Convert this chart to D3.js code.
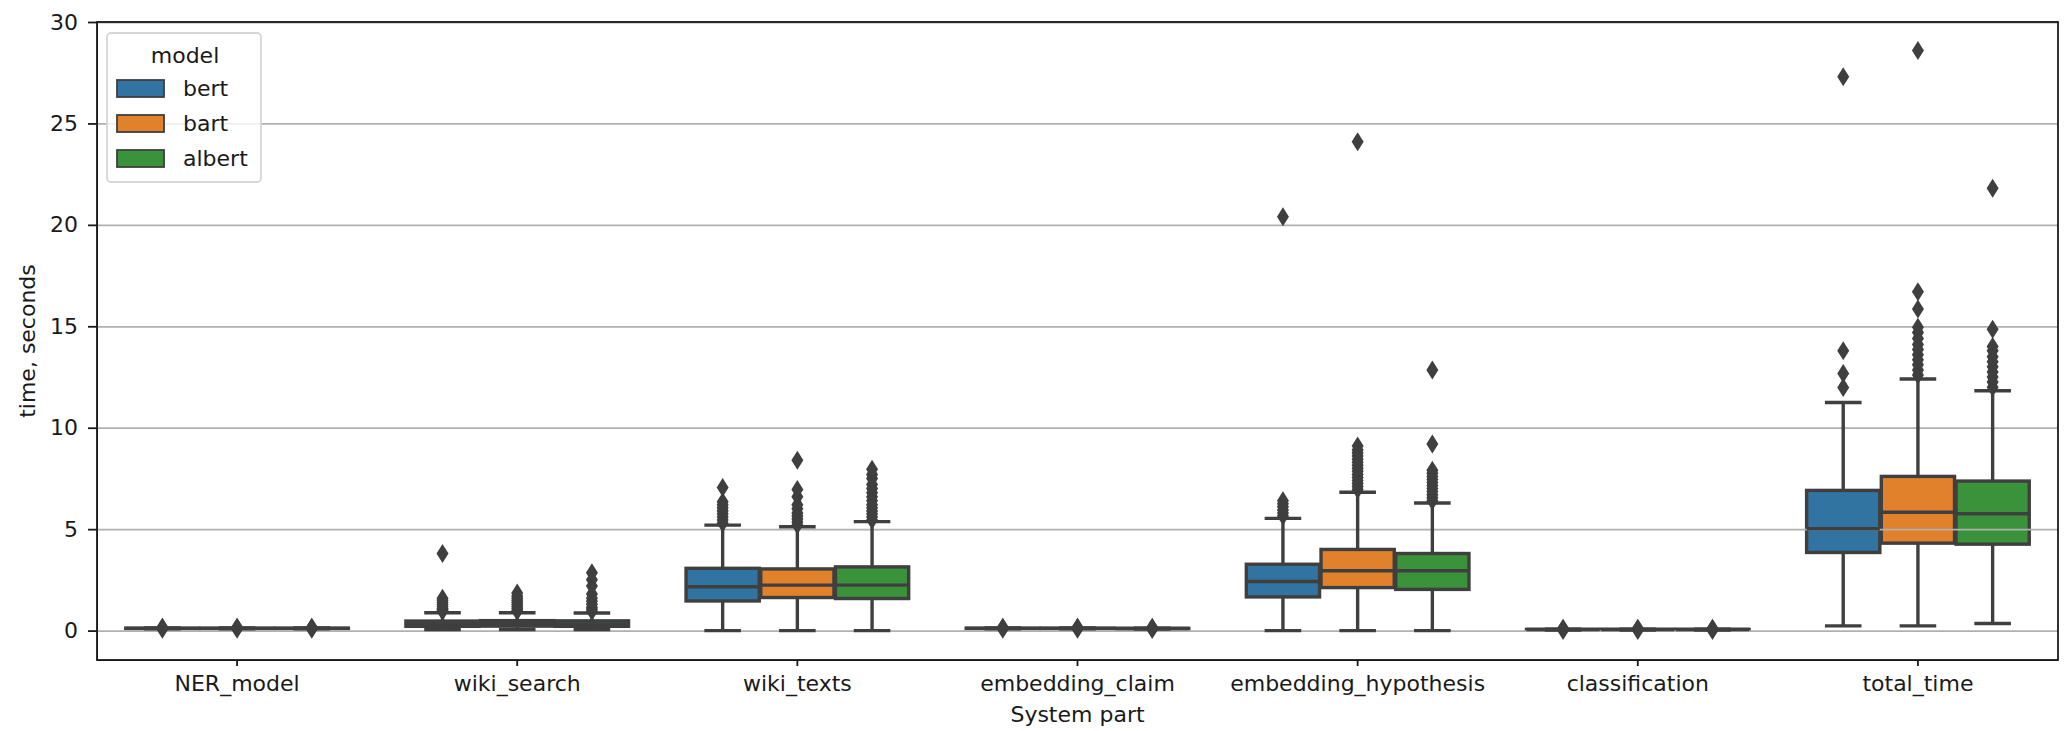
<!DOCTYPE html>
<html>
<head>
<meta charset="utf-8">
<script src="https://cdnjs.cloudflare.com/ajax/libs/d3/7.8.5/d3.min.js"></script>
<style>
    body { margin: 0; background: #fff; }
    svg text { font-family: 'DejaVu Sans', sans-serif; fill: #1a1a1a; }
    .axis text { font-size: 22px; }
    .axis line { stroke: #1a1a1a; stroke-width: 1.8; }
    .axis path { display: none; }
    .grid line { stroke: #b0b0b0; stroke-width: 1.8; }
    .axis-label { font-size: 22px; }
</style>
</head>
<body>
<svg id="boxes"></svg>
<script>
//categories on the x axis and hue levels
var categories = ['NER_model', 'wiki_search', 'wiki_texts', 'embedding_claim', 'embedding_hypothesis', 'classification', 'total_time'];
var models = ['bert', 'bart', 'albert'];
var colors = ['#3274a1', '#e1812c', '#3a923a'];
var yTicks = [0, 5, 10, 15, 20, 25, 30];

//box statistics, one row per category, one entry per model
var whiskerLow = [
    [0.09, 0.09, 0.09],
    [0.05, 0.05, 0.05],
    [0, 0, 0],
    [0.09, 0.09, 0.08],
    [0, 0, 0],
    [0.03, 0.03, 0.03],
    [0.23, 0.23, 0.35]
];
var q1 = [
    [0.10, 0.10, 0.10],
    [0.21, 0.22, 0.21],
    [1.46, 1.63, 1.58],
    [0.10, 0.10, 0.09],
    [1.66, 2.12, 2.03],
    [0.04, 0.04, 0.04],
    [3.85, 4.31, 4.26]
];
var median = [
    [0.11, 0.11, 0.11],
    [0.33, 0.35, 0.33],
    [2.16, 2.24, 2.24],
    [0.11, 0.11, 0.10],
    [2.42, 2.95, 2.95],
    [0.05, 0.05, 0.05],
    [5.02, 5.83, 5.76]
];
var q3 = [
    [0.12, 0.12, 0.12],
    [0.47, 0.49, 0.48],
    [3.07, 3.04, 3.14],
    [0.12, 0.12, 0.11],
    [3.27, 4.00, 3.80],
    [0.06, 0.06, 0.06],
    [6.91, 7.60, 7.37]
];
var whiskerHigh = [
    [0.13, 0.13, 0.13],
    [0.88, 0.88, 0.87],
    [5.20, 5.12, 5.37],
    [0.13, 0.13, 0.12],
    [5.53, 6.82, 6.29],
    [0.07, 0.07, 0.07],
    [11.24, 12.40, 11.82]
];
var outliers = [
    [[0.07, 0.15, 0.17], [0.07, 0.15, 0.17], [0.07, 0.15, 0.17]],
    [[0.95, 1.0, 1.05, 1.1, 1.2, 1.3, 1.4, 1.5, 1.6, 3.8],
     [0.95, 1.0, 1.1, 1.2, 1.3, 1.4, 1.5, 1.6, 1.7, 1.85],
     [0.95, 1.05, 1.15, 1.3, 1.45, 1.6, 1.8, 2.2, 2.5, 2.85]],
    [[5.3, 5.45, 5.6, 5.75, 5.9, 6.05, 6.2, 6.35, 7.05],
     [5.2, 5.35, 5.5, 5.65, 5.8, 6.0, 6.2, 6.6, 6.95, 8.4],
     [5.45, 5.6, 5.75, 5.9, 6.05, 6.2, 6.4, 6.6, 6.8, 7.0, 7.2, 7.5, 7.7, 7.95]],
    [[0.06, 0.15, 0.17], [0.06, 0.15, 0.17], [0.05, 0.14, 0.16]],
    [[5.65, 5.8, 5.95, 6.1, 6.25, 6.4, 20.4],
     [6.95, 7.1, 7.25, 7.4, 7.55, 7.7, 7.85, 8.0, 8.15, 8.3, 8.45, 8.6, 8.75, 8.9, 9.1, 24.1],
     [6.4, 6.55, 6.7, 6.85, 7.0, 7.15, 7.3, 7.45, 7.6, 7.75, 7.9, 9.2, 12.85]],
    [[0.01, 0.09, 0.11], [0.01, 0.09, 0.11], [0.01, 0.09, 0.11]],
    [[11.98, 12.67, 13.8, 27.3],
     [12.6, 12.85, 13.1, 13.35, 13.6, 13.85, 14.1, 14.4, 14.7, 14.95, 15.85, 16.7, 28.6],
     [12.0, 12.25, 12.5, 12.75, 13.0, 13.25, 13.5, 13.8, 14.0, 14.85, 21.8]]
];

function boxChart() {
    //chart parameters
    var svg = d3.select('#boxes')
        .attr('width', 2067)
        .attr('height', 731);

    var margin = {top: 22, right: 9, bottom: 71, left: 97},
        width = +svg.attr('width') - margin.left - margin.right,
        height = +svg.attr('height') - margin.top - margin.bottom;

    var gray = '#3f3f3f';

    //build rows for every box
    var data = [];
    categories.forEach((c, i) => {
        models.forEach((m, j) => {
            data.push({
                cat: c, model: m, color: colors[j],
                lo: whiskerLow[i][j], q1: q1[i][j], med: median[i][j],
                q3: q3[i][j], hi: whiskerHigh[i][j], out: outliers[i][j]
            });
        });
    });

    //scales
    var xScale = d3.scaleBand().domain(categories).range([0, width]),
        hueScale = d3.scaleBand().domain(models)
            .range([xScale.bandwidth() * 0.1, xScale.bandwidth() * 0.9])
            .paddingInner(0.02).paddingOuter(0.01),
        yScale = d3.scaleLinear().domain([-1.45, 30]).range([height, 0]);

    var canvas = svg.append('g')
        .attr('transform', 'translate(' + margin.left + ',' + margin.top + ')');

    var boxX = d => xScale(d.cat) + hueScale(d.model),
        boxMid = d => boxX(d) + hueScale.bandwidth() / 2,
        capW = hueScale.bandwidth() / 2;

    //boxes
    canvas.append('g').selectAll('rect').data(data)
        .enter().append('rect')
            .attr('x', boxX)
            .attr('width', hueScale.bandwidth())
            .attr('y', d => yScale(d.q3))
            .attr('height', d => yScale(d.q1) - yScale(d.q3))
            .style('fill', d => d.color)
            .style('stroke', gray)
            .style('stroke-width', 3.4);

    //y gridlines
    canvas.append('g')
        .attr('class', 'grid')
        .call(d3.axisLeft(yScale).tickValues(yTicks).tickSize(-width).tickFormat(''));

    var lines = canvas.append('g')
        .style('stroke', gray)
        .style('stroke-width', 3.4);

    //whiskers
    lines.selectAll('.whisker-up').data(data)
        .enter().append('line')
            .attr('x1', boxMid).attr('x2', boxMid)
            .attr('y1', d => yScale(d.q3)).attr('y2', d => yScale(d.hi));
    lines.selectAll('.whisker-down').data(data)
        .enter().append('line')
            .attr('x1', boxMid).attr('x2', boxMid)
            .attr('y1', d => yScale(d.q1)).attr('y2', d => yScale(d.lo));

    //caps
    ['hi', 'lo'].forEach(k => {
        lines.selectAll('.cap-' + k).data(data)
            .enter().append('line')
                .attr('x1', d => boxMid(d) - capW / 2).attr('x2', d => boxMid(d) + capW / 2)
                .attr('y1', d => yScale(d[k])).attr('y2', d => yScale(d[k]));
    });

    //medians
    lines.selectAll('.median').data(data)
        .enter().append('line')
            .attr('x1', boxX).attr('x2', d => boxX(d) + hueScale.bandwidth())
            .attr('y1', d => yScale(d.med)).attr('y2', d => yScale(d.med));

    //fliers as thin diamonds
    var fliers = [];
    data.forEach(d => d.out.forEach(v => fliers.push({x: boxMid(d), v: v})));
    canvas.append('g').selectAll('path').data(fliers)
        .enter().append('path')
            .attr('transform', d => 'translate(' + d.x + ',' + yScale(d.v) + ')')
            .attr('d', 'M0,-9.5L6,0L0,9.5L-6,0Z')
            .style('fill', gray);

    //frame
    canvas.append('rect')
        .attr('width', width).attr('height', height)
        .style('fill', 'none').style('stroke', '#1a1a1a').style('stroke-width', 1.8);

    //y axis
    canvas.append('g')
        .attr('class', 'axis axis-y')
        .call(d3.axisLeft(yScale).tickValues(yTicks).tickSize(9).tickPadding(10));

    //x axis
    canvas.append('g')
        .attr('class', 'axis axis-x')
        .attr('transform', 'translate(0,' + height + ')')
        .call(d3.axisBottom(xScale).tickSize(6).tickPadding(9));

    //axis labels
    canvas.append('text')
        .attr('class', 'axis-label')
        .attr('text-anchor', 'middle')
        .attr('x', width / 2).attr('y', height + 62)
        .text('System part');

    canvas.append('text')
        .attr('class', 'axis-label')
        .attr('text-anchor', 'middle')
        .attr('transform', 'translate(' + (27 - margin.left + 8) + ',' + height / 2 + ') rotate(-90)')
        .text('time, seconds');

    //legend
    var legend = canvas.append('g')
        .attr('transform', 'translate(10,11)');

    legend.append('rect')
        .attr('width', 154).attr('height', 149).attr('rx', 4)
        .style('fill', '#fff').style('fill-opacity', 0.8)
        .style('stroke', '#d6d6d6').style('stroke-width', 1.8);

    legend.append('text')
        .attr('x', 78).attr('y', 30)
        .attr('text-anchor', 'middle')
        .style('font-size', '22px')
        .text('model');

    var item = legend.selectAll('.item').data(models)
        .enter().append('g')
            .attr('transform', (d, i) => 'translate(0,' + (47 + i * 35) + ')');

    item.append('rect')
        .attr('x', 10).attr('width', 47).attr('height', 17)
        .style('fill', (d, i) => colors[i])
        .style('stroke', gray).style('stroke-width', 1.8);

    item.append('text')
        .attr('x', 76).attr('y', 16)
        .style('font-size', '22px')
        .text(d => d);
}

boxChart();
</script>
</body>
</html>
